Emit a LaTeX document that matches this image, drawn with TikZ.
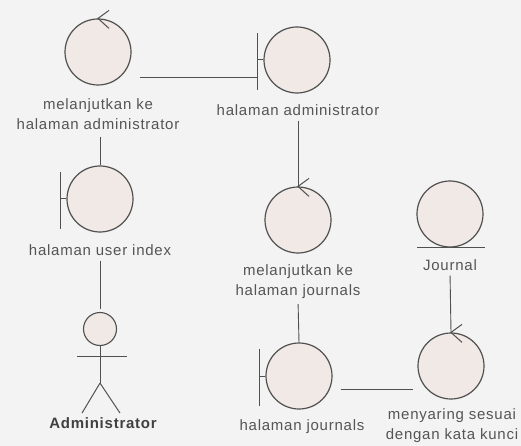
\documentclass[tikz,border=0pt]{standalone}
\usepackage{fontspec}
\setmainfont{Liberation Sans}[LetterSpace=5]
\usepackage{tikz}
\usepackage{xcolor}
\usetikzlibrary{arrows.meta,positioning}
\definecolor{umlfill}{RGB}{241,233,229}
\definecolor{umlline}{RGB}{80,80,80}
\definecolor{umltext}{RGB}{85,85,85}
\definecolor{umlbg}{RGB}{244,243,243}

\begin{document}
\begin{tikzpicture}[x=1pt,y=-1pt,every node/.style={font=\fontsize{15}{20}\selectfont}]
  \tikzset{
    obj/.style={circle,draw=umlline,fill=umlfill,line width=1.2pt,minimum size=66pt,inner sep=0pt},
    head/.style={circle,draw=umlline,fill=umlfill,line width=1.1pt,minimum size=33pt,inner sep=0pt},
    lbl/.style={text=umltext,align=center,inner sep=1pt},
    conn/.style={draw=umlline,line width=0.9pt},
    sym/.style={draw=umlline,line width=1pt}
  }
  \fill[umlbg] (0,0) rectangle (521,446);
  \useasboundingbox (0,0) rectangle (521,446);
  % objects
  \node[obj] (lanjutAdm) at (98,52) {};
  \node[obj] (adminPg) at (297,60) {};
  \node[obj] (userIdx) at (100,199) {};
  \node[obj] (lanjutJrn) at (298,220) {};
  \node[obj] (journal) at (450,214) {};
  \node[obj] (jrnPg) at (299,376) {};
  \node[obj] (saring) at (451,366) {};
  \node[head] (actHead) at (100,329) {};
  % labels
  \node[lbl] (lanjutAdmTxt) at (98,114) {melanjutkan ke\\halaman administrator};
  \node[lbl] (adminPgTxt) at (298,110) {halaman administrator};
  \node[lbl] (userIdxTxt) at (100,250) {halaman user index};
  \node[lbl,font=\fontsize{15}{20}\selectfont\bfseries,text=umlline!80!black] (actTxt) at (103,423) {Administrator};
  \node[lbl] (lanjutJrnTxt) at (298,282) {melanjutkan ke\\halaman journals};
  \node[lbl] (journalTxt) at (450,265) {Journal};
  \node[lbl] (jrnPgTxt) at (302,427) {halaman journals};
  \node[lbl] (saringTxt) at (452,426) {menyaring sesuai\\dengan kata kunci};
  % controller arrows
  \draw[sym] (lanjutAdm.north) ++(11,-8) -- (lanjutAdm.north) -- ++(11,10);
  \draw[sym] (lanjutJrn.north) ++(11,-8) -- (lanjutJrn.north) -- ++(11,10);
  \draw[sym] (saring.north) ++(11,-8) -- (saring.north) -- ++(11,10);
  % boundary bars
  \draw[sym] (adminPg.west) -- ++(-6,0) ++(0,-27) -- ++(0,57);
  \draw[sym] (userIdx.west) -- ++(-6,0) ++(0,-27) -- ++(0,57);
  \draw[sym] (jrnPg.west) -- ++(-6,0) ++(0,-27) -- ++(0,57);
  % entity line
  \draw[sym] (journal.south) ++(-33,0) -- ++(68,0);
  % actor body
  \draw[sym] (actHead.south) -- ++(0,37) coordinate (actHip);
  \draw[sym] (actHead.south) ++(-23,10) -- ++(50,0);
  \draw[sym] (actHip) -- ++(-18,30);
  \draw[sym] (actHip) -- ++(20,30);
  % links
  \coordinate (admLink) at (258,77);
  \draw[conn,shorten <=8pt] (lanjutAdm.east |- admLink) -- (admLink);
  \draw[conn,shorten <=6pt] (lanjutAdmTxt.south -| userIdx.north) -- (userIdx.north);
  \draw[conn,shorten <=4pt,shorten >=3pt] (userIdxTxt.south) -- (actHead.north);
  \draw[conn,shorten <=4pt] (adminPgTxt.south) -- (lanjutJrn.north);
  \draw[conn,shorten <=4pt] (lanjutJrnTxt.south) -- (jrnPg.north);
  \draw[conn,shorten <=4pt] (journalTxt.south) -- (saring.north);
  \coordinate (jrnLink) at (413,389);
  \draw[conn,shorten <=8pt] (jrnPg.east |- jrnLink) -- (jrnLink);
\end{tikzpicture}
\end{document}
